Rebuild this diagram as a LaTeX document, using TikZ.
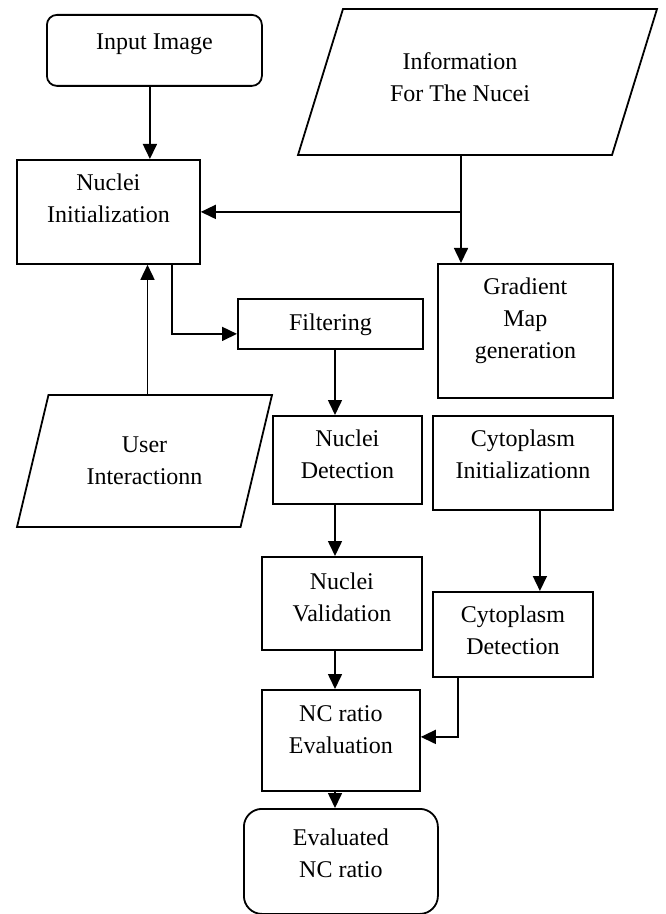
\documentclass[tikz,border=0pt]{standalone}
\usepackage{fontspec}
\setmainfont{Liberation Serif}
\usetikzlibrary{positioning}
\usetikzlibrary{arrows.meta}
\usetikzlibrary{shapes.geometric}

\begin{document}
\begin{tikzpicture}[->,
        >={Triangle[length=7.5pt,width=7pt]},
        line width=0.8pt,
        x=0.5pt, y=-0.5pt,
        block/.style={
        draw=black,
        line width=0.9pt,
        rectangle,
        anchor=north west,
        inner sep=0pt,
        align=center,
        font=\fontsize{12pt}{16pt}\selectfont},
        term/.style={
        block,
        rounded corners=#1},
        data/.style={
        draw=black,
        line width=0.9pt,
        trapezium,
        trapezium stretches body,
        inner sep=0pt,
        align=center,
        font=\fontsize{12pt}{16pt}\selectfont}]

        \useasboundingbox (0,0) rectangle (665,914);

        \node[term=5pt, minimum width=107.5pt, text height=17.5pt, text depth=18pt] (input) at (46,14) {Input Image};
        \node[data, trapezium left angle=58, trapezium right angle=122, minimum width=179.5pt, minimum height=73pt, text height=28pt, text depth=8pt] (info) at (477.5,82) {Information\hspace{17.5pt}\mbox{}\\For The Nucei\hspace{17.5pt}\mbox{}};
        \node[block, minimum width=91.5pt, text height=31.5pt, text depth=20.5pt] (ninit) at (16,159) {Nuclei\\Initialization};
        \node[block, minimum width=87.5pt, text height=47.5pt, text depth=19.5pt] (grad) at (437,263) {Gradient\\Map\\generation};
        \node[block, minimum width=92.5pt, text height=16pt, text depth=9pt] (filt) at (237,298) {Filtering};
        \node[data, trapezium left angle=64.5, trapezium right angle=115.5, minimum width=127.5pt, minimum height=66pt, text height=28pt, text depth=5pt] (user) at (144.5,461) {User\\Interactionn};
        \node[block, minimum width=74.5pt, text height=31.5pt, text depth=12.5pt] (ndet) at (272,415) {Nuclei\\Detection};
        \node[block, minimum width=90pt, text height=31.5pt, text depth=15.5pt] (cinit) at (432,415) {Cytoplasm\\Initializationn};
        \node[block, minimum width=80pt, text height=32.5pt, text depth=14pt] (nval) at (261,556) {Nuclei\\Validation};
        \node[block, minimum width=80pt, text height=31.5pt, text depth=11pt] (cdet) at (432,591) {Cytoplasm\\Detection};
        \node[block, minimum width=79pt, text height=32pt, text depth=18.5pt] (nceval) at (261,689) {NC ratio\\Evaluation};
        \node[term=9pt, minimum width=97pt, text height=34.5pt, text depth=18pt] (evald) at (243,808) {Evaluated\\NC ratio};

        \coordinate (split) at ([xshift=-8.25pt]info.south |- ninit.east);
        \coordinate (spine) at (335,0);

        \draw ([xshift=-2.25pt]input.south) -- ([xshift=-2.25pt]input.south |- ninit.north); % Input->Nuclei
        \draw[-] ([xshift=-8.25pt]info.south) -- (split);
        \draw (split) -- (ninit.east); % Info->Nuclei
        \draw (split) -- (split |- grad.north); % Info->Gradient
        \draw ([xshift=1.5pt]user.north) -- ([xshift=1.5pt]user.north |- ninit.south); % User->Nuclei
        \draw ([xshift=31.75pt]ninit.south) |- ([yshift=-5pt]filt.west); % Nuclei->Filtering
        \draw (filt.south -| spine) -- (ndet.north -| spine);
        \draw (ndet.south -| spine) -- (nval.north -| spine);
        \draw (nval.south -| spine) -- (nceval.north -| spine);
        \draw (nceval.south -| spine) -- (evald.north -| spine);
        \draw ([xshift=8.5pt]cinit.south) -- ([xshift=8.5pt]cinit.south |- cdet.north); % Cytoplasm
        \draw ([xshift=-27.5pt]cdet.south) |- ([yshift=1.75pt]nceval.east); % Cytoplasm->NC
\end{tikzpicture}
\end{document}
